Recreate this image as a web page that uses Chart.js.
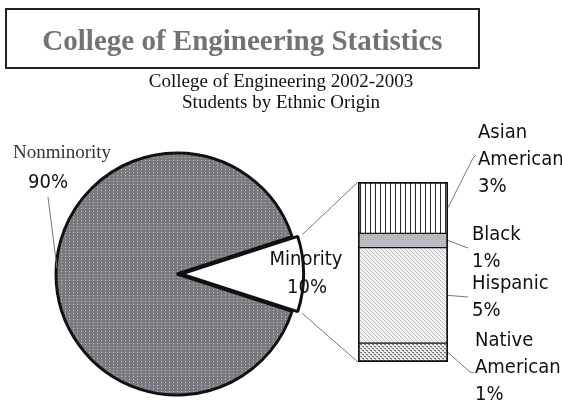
<!DOCTYPE html>
<html>
<head>
<meta charset="utf-8">
<script src="https://cdn.jsdelivr.net/npm/chart.js@4.4.0/dist/chart.umd.min.js"></script>
<style>
  html, body { margin: 0; padding: 0; background: #fff; }
  #wrap { position: relative; width: 562px; height: 403px; overflow: hidden; }
  #wrap canvas { position: absolute; left: 0; top: 0; }
  #titleBox {
    position: absolute; left: 5px; top: 8px; width: 471px;
    border: 2px solid #222; box-sizing: content-box;
    font: bold 29px "Liberation Serif", "Times New Roman", serif; color: #737373;
    text-align: center; line-height: 57px; padding-top: 2px; height: 55px;
  }
  #subTitle {
    position: absolute; left: 0; top: 70px; width: 562px; text-align: center;
    font: 19px "Liberation Serif", "Times New Roman", serif; line-height: 21px; color: #111;
  }
</style>
</head>
<body>
<div id="wrap">
  <canvas id="pieChart" width="562" height="403"></canvas>
  <canvas id="barChart" width="562" height="403"></canvas>
  <div id="titleBox">College of Engineering Statistics</div>
  <div id="subTitle">College of Engineering 2002-2003<br>Students by Ethnic Origin</div>
</div>
<script>
// pie: share of students
const pieLabels = ['Nonminority', 'Minority'];
const pieValues = [90, 10];

// bar: breakdown of the minority slice, bottom to top
const barLabels = [['Native', 'American'], ['Hispanic'], ['Black'], ['Asian', 'American']];
const barValues = [1.05, 5.3, 0.8, 2.85];

const SANS = '"DejaVu Sans Condensed", "DejaVu Sans", sans-serif';
const SERIF = '"Liberation Serif", "Times New Roman", serif';

// where each bar label sits (first line centre) and where its leader ends
const barLabelLayout = [
  { x: 475, y: 341, elbow: [470, 372], end: [474, 373] },
  { x: 472, y: 284, elbow: [468, 297], end: [468, 297] },
  { x: 472, y: 235, elbow: [468, 248], end: [468, 248] },
  { x: 478, y: 133, elbow: [473, 158], end: [476, 155] },
];

function makePattern(w, h, draw) {
  const c = document.createElement('canvas');
  c.width = w; c.height = h;
  draw(c.getContext('2d'));
  return document.createElement('canvas').getContext('2d').createPattern(c, 'repeat');
}

const pieDots = makePattern(4, 3, g => {
  g.fillStyle = '#7a7a80'; g.fillRect(0, 0, 4, 3);
  g.fillStyle = '#bcbcc0'; g.fillRect(1, 1, 1, 1);
});
const vertLines = makePattern(5, 1, g => {
  g.fillStyle = '#ffffff'; g.fillRect(0, 0, 5, 1);
  g.fillStyle = '#2a2a2a'; g.fillRect(0, 0, 1, 1);
});
const greyFill = makePattern(2, 2, g => {
  g.fillStyle = '#b2b6bd'; g.fillRect(0, 0, 2, 2);
  g.fillStyle = '#c2c5ca'; g.fillRect(0, 0, 1, 1);
});
const diagLines = makePattern(4, 4, g => {
  g.fillStyle = '#f3f3f3'; g.fillRect(0, 0, 4, 4);
  g.fillStyle = '#bdbdbd';
  for (let i = 0; i < 4; i++) g.fillRect(i, i, 1, 1);
});
const speckle = makePattern(4, 4, g => {
  g.fillStyle = '#ececec'; g.fillRect(0, 0, 4, 4);
  g.fillStyle = '#7a7a7a';
  g.fillRect(0, 0, 2, 1); g.fillRect(2, 2, 2, 1);
  g.fillStyle = '#b0b0b0';
  g.fillRect(1, 1, 1, 1); g.fillRect(3, 3, 1, 1);
});

const barFills = [speckle, diagLines, greyFill, vertLines];
const barBorders = [
  { top: 1, bottom: 2, left: 2, right: 2 },
  { top: 1, bottom: 1, left: 2, right: 2 },
  { top: 1, bottom: 1, left: 2, right: 2 },
  { top: 2, bottom: 1, left: 2, right: 2 },
];

const pct = v => Math.round(v) + '%';

function line(ctx, pts, color) {
  ctx.save();
  ctx.strokeStyle = color;
  ctx.lineWidth = 1;
  ctx.beginPath();
  ctx.moveTo(pts[0][0], pts[0][1]);
  pts.slice(1).forEach(p => ctx.lineTo(p[0], p[1]));
  ctx.stroke();
  ctx.restore();
}

const pieLabelPlugin = {
  id: 'pieLabels',
  afterDraw(chart) {
    const ctx = chart.ctx;
    line(ctx, [[48, 197], [57, 268]], '#777');
    ctx.save();
    ctx.fillStyle = '#111';
    ctx.textAlign = 'center';
    ctx.textBaseline = 'middle';
    ctx.font = '19px ' + SERIF;
    ctx.fillStyle = '#333';
    ctx.fillText(pieLabels[0], 62, 153);
    ctx.fillStyle = '#111';
    ctx.font = '20px ' + SANS;
    ctx.fillText(pct(pieValues[0]), 48, 183);
    ctx.fillText(pieLabels[1], 306, 260);
    ctx.fillText(pct(pieValues[1]), 307, 288);
    ctx.restore();
  }
};

const pieChart = new Chart(document.getElementById('pieChart'), {
  type: 'pie',
  data: {
    labels: pieLabels,
    datasets: [{
      data: pieValues,
      backgroundColor: [pieDots, '#ffffff'],
      borderColor: '#111',
      borderWidth: 3,
      offset: [0, 16],
    }]
  },
  options: {
    responsive: false,
    animation: false,
    rotation: 108,
    radius: 121,
    layout: { padding: { left: 37, right: 245, top: 150, bottom: 5 } },
    plugins: { legend: { display: false }, tooltip: { enabled: false } }
  },
  plugins: [pieLabelPlugin]
});

const barLabelPlugin = {
  id: 'barLabels',
  afterDraw(chart) {
    const ctx = chart.ctx;
    const top = chart.getDatasetMeta(barValues.length - 1).data[0];
    const bottom = chart.getDatasetMeta(0).data[0];
    const left = top.x - top.width / 2;

    // connectors from the minority slice to the bar
    const arc = pieChart.getDatasetMeta(0).data[1];
    const off = arc.options.offset || 0;
    const mid = (arc.startAngle + arc.endAngle) / 2;
    const cx = arc.x + Math.cos(mid) * off / 4;
    const cy = arc.y + Math.sin(mid) * off / 4;
    const r = arc.outerRadius + off * (1 - Math.sin(Math.min(Math.PI, arc.circumference)));
    line(ctx, [[cx + r * Math.cos(arc.startAngle), cy + r * Math.sin(arc.startAngle)], [left, top.y]], '#777');
    line(ctx, [[cx + r * Math.cos(arc.endAngle), cy + r * Math.sin(arc.endAngle)], [left, bottom.base]], '#777');

    ctx.save();
    ctx.font = '20px ' + SANS;
    ctx.fillStyle = '#111';
    ctx.textAlign = 'left';
    ctx.textBaseline = 'middle';
    barValues.forEach((v, i) => {
      const el = chart.getDatasetMeta(i).data[0];
      const lay = barLabelLayout[i];
      const midY = (el.y + el.base) / 2;
      line(ctx, [[el.x + el.width / 2, midY], lay.elbow, lay.end], '#777');
      barLabels[i].concat(pct(v)).forEach((t, k) => ctx.fillText(t, lay.x, lay.y + k * 27));
    });
    ctx.restore();
  }
};

new Chart(document.getElementById('barChart'), {
  type: 'bar',
  data: {
    labels: ['Minority'],
    datasets: barLabels.map((l, i) => ({
      label: l.join(' '),
      data: [barValues[i]],
      backgroundColor: barFills[i],
      borderColor: '#111',
      borderWidth: barBorders[i],
      borderSkipped: false,
      barPercentage: 1,
      categoryPercentage: 1,
    }))
  },
  options: {
    responsive: false,
    animation: false,
    layout: { padding: { left: 358, right: 114, top: 182, bottom: 41 } },
    plugins: { legend: { display: false }, tooltip: { enabled: false } },
    scales: {
      x: { stacked: true, display: false },
      y: { stacked: true, display: false, min: 0, max: barValues.reduce((a, b) => a + b, 0) }
    }
  },
  plugins: [barLabelPlugin]
});
</script>
</body>
</html>
